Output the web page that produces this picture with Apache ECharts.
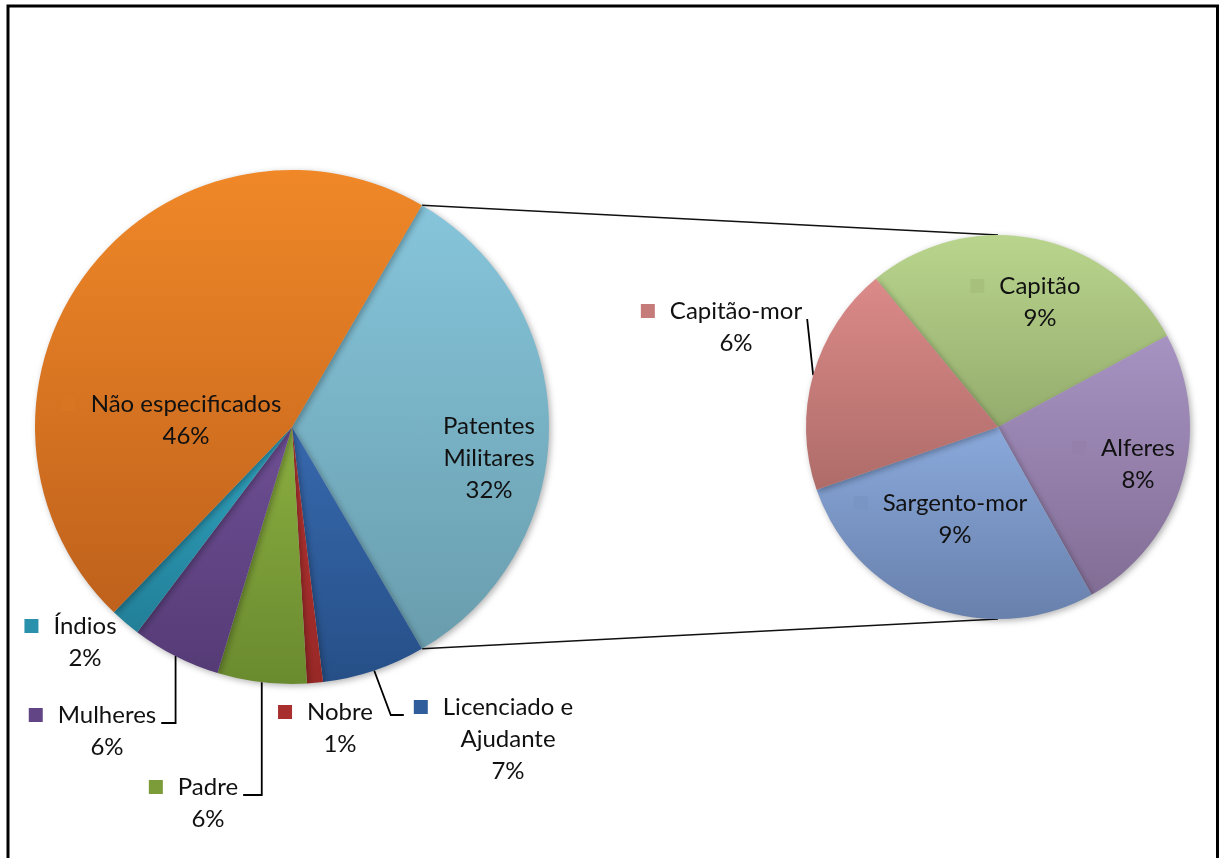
<!DOCTYPE html>
<html>
<head>
<meta charset="utf-8">
<title>Pie of pie</title>
<script src="https://cdn.jsdelivr.net/npm/echarts@6/dist/echarts.min.js"></script>
<style>
  html, body { margin: 0; padding: 0; background: #fff; }
  #chart { width: 1220px; height: 858px; }
</style>
</head>
<body>
<div id="chart"></div>
<script>
  // first pie, clockwise after the split slice
  var splitName = 'Patentes\nMilitares'
  var mainNames = ['Licenciado e\nAjudante', 'Nobre', 'Padre', 'Mulheres', 'Índios', 'Não especificados']
  var mainValues = [6.5, 1.0, 5.6, 5.6, 1.9, 46.2]
  // second pie = breakdown of "Patentes Militares"
  var subNames = ['Capitão', 'Alferes', 'Sargento-mor', 'Capitão-mor']
  var subValues = [9.3, 8.2, 9.2, 6.4]

  var mainColors = [
    ['#86C5DB', '#699DAD'],
    ['#3769AE', '#264F87'],
    ['#B83533', '#972826'],
    ['#8BAE40', '#6A8A2F'],
    ['#6E4F94', '#553B76'],
    ['#30A2BE', '#227F98'],
    ['#F08828', '#BF611C']
  ]
  var subColors = [
    ['#B9D58D', '#94AC6D'],
    ['#A793C2', '#826D95'],
    ['#8AA9DB', '#6880AC'],
    ['#DB8A88', '#AE6C69']
  ]

  var MAIN = { cx: 292, cy: 427, r: 257 }
  var SUB = { cx: 998, cy: 427, r: 192 }
  var SUB_START = 129.5
  var FONT = 'Lato, "Open Sans", sans-serif'
  var KEY = 14, GAP = 15
  var SHIFT = (KEY + GAP) / 2

  // where the name/percent text is centred, relative to its pie centre
  var mainLabelAt = [[197, 31], [216, 312], [48, 301], [-84, 376], [-185, 304], [-207, 215], [-106, -7]]
  var subLabelAt = [[42, -125], [140, 37], [-43, 92], [-262, -100]]
  var mainLeader = [false, true, false, true, true, false, false]
  var subLeader = [false, false, false, true]

  function sum(a) { return a.reduce(function (s, v) { return s + v }, 0) }

  var splitValue = sum(subValues)
  var total = splitValue + sum(mainValues)
  var pct = function (v) { return Math.round(v / total * 100) }
  // Excel shows the split slice as the sum of the rounded second-pie shares
  var splitPct = sum(subValues.map(pct))
  var mainStart = splitValue / total * 180

  var allNames = [splitName].concat(mainNames)
  var allValues = [splitValue].concat(mainValues)
  var allPct = [splitPct].concat(mainValues.map(pct))

  function midAngles(values, start) {
    var s = sum(values), a = start, out = []
    values.forEach(function (v) {
      var span = v / s * 360
      out.push(a - span / 2)
      a -= span
    })
    return out
  }
  var mainMid = midAngles(allValues, mainStart)
  var subMid = midAngles(subValues, SUB_START)

  function grad(c) {
    return { type: 'linear', x: 0, y: 0, x2: 0, y2: 1, colorStops: [{ offset: 0, color: c[0] }, { offset: 1, color: c[1] }] }
  }
  function mix(c) {
    var a = echarts.color.parse(c[0]), b = echarts.color.parse(c[1])
    return 'rgb(' + [0, 1, 2].map(function (i) { return Math.round((a[i] + b[i]) / 2) }).join(',') + ')'
  }

  function richFor(colors) {
    var rich = {
      g: { width: GAP, height: KEY },
      p: { width: KEY + GAP, height: KEY }
    }
    colors.forEach(function (c, i) {
      rich['k' + i] = { width: KEY, height: KEY, backgroundColor: mix(c) }
    })
    return rich
  }

  function labelText(i, name, p) {
    var lines = name.split('\n')
    var out = ['{k' + i + '|}{g|}' + lines[0]]
    lines.slice(1).forEach(function (l) { out.push('{p|}' + l) })
    out.push('{p|}' + p + '%')
    return out.join('\n')
  }

  function makeLayout(pie, at, leader, mids) {
    return function (params) {
      var i = params.dataIndex
      var x = pie.cx + at[i][0] - SHIFT
      var y = pie.cy + at[i][1]
      var w = params.labelRect.width, h = params.labelRect.height
      var res = { x: x, y: y, align: 'center', verticalAlign: 'middle' }
      if (leader[i]) {
        var rad = mids[i] * Math.PI / 180
        var p0 = [pie.cx + pie.r * Math.cos(rad), pie.cy - pie.r * Math.sin(rad)]
        var ay = y - h / 2 + 24
        var left = x - w / 2, right = x + w / 2
        if (right < p0[0]) {
          var end = [right + 5, ay]
          // short gap: straight line to the label corner
          res.labelLinePoints = p0[0] - end[0] < 12 ? [p0, end, end] : [p0, [p0[0], ay], end]
        } else {
          res.labelLinePoints = [p0, [left - 23, ay], [left - 10, ay]]
        }
      }
      return res
    }
  }

  var mainData = allNames.map(function (n, i) {
    return {
      name: n,
      value: allValues[i],
      itemStyle: { color: grad(mainColors[i]) },
      label: { position: (i === 0 || i === 6) ? 'inside' : 'outside' },
      labelLine: { show: mainLeader[i] }
    }
  })
  var subData = subNames.map(function (n, i) {
    return {
      name: n,
      value: subValues[i],
      itemStyle: { color: grad(subColors[i]) },
      label: { position: subLeader[i] ? 'outside' : 'inside' },
      labelLine: { show: subLeader[i] }
    }
  })

  var labelBase = {
    color: '#111',
    fontFamily: FONT,
    fontSize: 24,
    lineHeight: 32,
    align: 'center'
  }
  var lineBase = { show: true, lineStyle: { color: '#000', width: 1.8 } }
  var shadow = { shadowBlur: 6, shadowOffsetX: 2, shadowOffsetY: 2, shadowColor: 'rgba(0,0,0,0.3)' }

  var rad = mainStart * Math.PI / 180
  var topA = [MAIN.cx + MAIN.r * Math.cos(rad), MAIN.cy - MAIN.r * Math.sin(rad)]
  var botA = [MAIN.cx + MAIN.r * Math.cos(rad), MAIN.cy + MAIN.r * Math.sin(rad)]

  var chart = echarts.init(document.getElementById('chart'), null, { renderer: 'canvas' })
  chart.setOption({
    animation: false,
    backgroundColor: '#fff',
    graphic: [
      {
        type: 'rect',
        shape: { x: 8, y: 6, width: 1209.5, height: 900 },
        style: { fill: null, stroke: '#000', lineWidth: 3 },
        silent: true
      },
      {
        type: 'polyline',
        shape: { points: [topA, [SUB.cx, SUB.cy - SUB.r]] },
        style: { stroke: '#111', lineWidth: 1.5, fill: null },
        silent: true
      },
      {
        type: 'polyline',
        shape: { points: [botA, [SUB.cx, SUB.cy + SUB.r]] },
        style: { stroke: '#111', lineWidth: 1.5, fill: null },
        silent: true
      }
    ],
    series: [
      {
        type: 'pie',
        center: [MAIN.cx, MAIN.cy],
        radius: MAIN.r,
        startAngle: mainStart,
        clockwise: true,
        avoidLabelOverlap: false,
        itemStyle: shadow,
        label: Object.assign({
          formatter: function (p) { return labelText(p.dataIndex, p.name, allPct[p.dataIndex]) },
          rich: richFor(mainColors)
        }, labelBase),
        labelLine: lineBase,
        labelLayout: makeLayout(MAIN, mainLabelAt, mainLeader, mainMid),
        emphasis: { disabled: true },
        data: mainData
      },
      {
        type: 'pie',
        center: [SUB.cx, SUB.cy],
        radius: SUB.r,
        startAngle: SUB_START,
        clockwise: true,
        avoidLabelOverlap: false,
        itemStyle: shadow,
        label: Object.assign({
          formatter: function (p) { return labelText(p.dataIndex, p.name, pct(subValues[p.dataIndex])) },
          rich: richFor(subColors)
        }, labelBase),
        labelLine: lineBase,
        labelLayout: makeLayout(SUB, subLabelAt, subLeader, subMid),
        emphasis: { disabled: true },
        data: subData
      }
    ]
  })
</script>
</body>
</html>
